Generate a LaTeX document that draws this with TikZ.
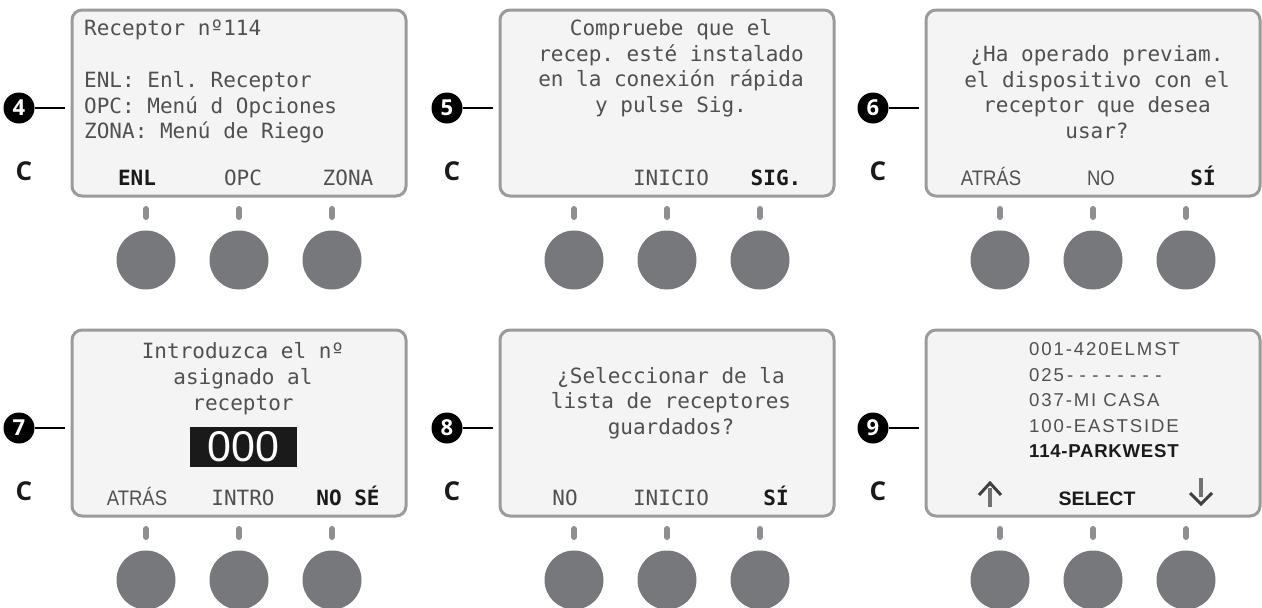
\documentclass[tikz,border=0pt]{standalone}
\usepackage{fontspec}
\setmonofont{DejaVu Sans Mono}
\setsansfont{Liberation Sans}
\newfontfamily\badgefont{Open Sans}
\newfontfamily\narrowfont[FakeStretch=0.88]{Liberation Sans}
\newfontfamily\listfont[LetterSpace=10]{Liberation Sans}
\usepackage{tikz}
\usetikzlibrary{calc}

\definecolor{scrfill}{HTML}{F4F4F4}
\definecolor{scredge}{HTML}{9B9B9B}
\definecolor{scrtext}{HTML}{505050}
\definecolor{knobgray}{HTML}{77787B}
\definecolor{stemgray}{HTML}{8E8F92}
\definecolor{ink}{HTML}{1A1A1A}
\newcommand{\dsh}{\makebox[12.6pt]{-}}

\begin{document}
\begin{tikzpicture}[x=1pt,y=-1pt,
  panel/.style={draw=scredge,fill=scrfill,line width=3pt,rounded corners=10pt,minimum width=334pt,minimum height=186pt,inner sep=0pt},
  badge/.style={circle,fill=black,text=white,inner sep=0pt,minimum size=31pt,font=\badgefont\bfseries\fontsize{22}{22}\selectfont},
  lead/.style={line width=2pt,shorten >=6pt},
  cbtn/.style={text=ink,inner sep=0pt,font=\badgefont\bfseries\fontsize{26}{26}\selectfont},
  stem/.style={stemgray,line width=6pt,line cap=round},
  knob/.style={circle,fill=knobgray,minimum size=59pt,inner sep=0pt},
  scr/.style={anchor=base,inner sep=0pt,text=scrtext,font=\ttfamily\fontsize{21}{21}\selectfont},
  soft/.style={anchor=base,inner sep=0pt,text=scrtext,font=\narrowfont\fontsize{21}{21}\selectfont},
  hard/.style={anchor=base,inner sep=0pt,text=ink,font=\ttfamily\bfseries\fontsize{21}{21}\selectfont},
  lst/.style={anchor=base west,inner sep=0pt,text=scrtext,font=\listfont\fontsize{18.6}{18.6}\selectfont}]

  \fill[white] (0,0) rectangle (1262,608);
  \useasboundingbox (0,0) rectangle (1262,608);

  \foreach \n/\cx/\cy in {4/239/103, 5/667/103, 6/1093/103, 7/239/423, 8/667/423, 9/1093/423} {
    \node[panel] (p\n) at (\cx,\cy) {};
    \node[badge] (b\n) at (\cx-220,\cy+5) {\n};
    \draw[lead] (b\n) -- (b\n -| p\n.west);
    \node[cbtn] (c\n) at (\cx-215,\cy+68) {C};
    \foreach \dx [count=\k] in {-93,0,93} {
      \draw[stem] (\cx+\dx,\cy+106) -- (\cx+\dx,\cy+114);
      \node[knob] (k\n\k) at (\cx+\dx,\cy+157) {};
    }
  }

  \node[scr,anchor=base west] (t4a) at (84,35) {Receptor nº114};
  \node[scr,anchor=base west] (t4b) at (84,87) {ENL: Enl. Receptor};
  \node[scr,anchor=base west] (t4c) at (84,113) {OPC: Menú d Opciones};
  \node[scr,anchor=base west] (t4d) at (84,138) {ZONA: Menú de Riego};
  \node[hard] (l4a) at (137,185) {ENL};
  \node[scr] (l4b) at (243,185) {OPC};
  \node[scr] (l4c) at (348,185) {ZONA};

  \node[scr] (t5a) at (671,35) {Compruebe que el};
  \node[scr] (t5b) at (671,61) {recep. esté instalado};
  \node[scr] (t5c) at (671,86.5) {en la conexión rápida};
  \node[scr] (t5d) at (671,112) {y pulse Sig.};
  \node[scr] (l5b) at (671,185) {INICIO};
  \node[hard] (l5c) at (776,185) {SIG.};

  \node[scr] (t6a) at (1097,61) {¿Ha operado previam.};
  \node[scr] (t6b) at (1097,87) {el dispositivo con el};
  \node[scr] (t6c) at (1097,112) {receptor que desea};
  \node[scr] (t6d) at (1097,138) {usar?};
  \node[soft] (l6a) at (991,185) {ATRÁS};
  \node[soft] (l6b) at (1101,185) {NO};
  \node[hard] (l6c) at (1203,185) {SÍ};

  \node[scr] (t7a) at (243,358) {Introduzca el nº};
  \node[scr] (t7b) at (243,384) {asignado al};
  \node[scr] (t7c) at (243,410) {receptor};
  \node[fill=ink,text=white,minimum width=107pt,minimum height=40pt,inner sep=0pt,font=\sffamily\fontsize{43}{43}\selectfont] (n7) at (243.5,447) {000};
  \node[soft] (l7a) at (137,505) {ATRÁS};
  \node[scr] (l7b) at (243,505) {INTRO};
  \node[hard] (l7c) at (348,505) {NO SÉ};

  \node[scr] (t8a) at (671,383) {¿Seleccionar de la};
  \node[scr] (t8b) at (671,408.5) {lista de receptores};
  \node[scr] (t8c) at (671,434) {guardados?};
  \node[scr] (l8a) at (565,505) {NO};
  \node[scr] (l8b) at (671,505) {INICIO};
  \node[hard] (l8c) at (776,505) {SÍ};

  \node[lst] (t9a) at (1029,355) {001-420ELMST};
  \node[lst] (t9b) at (1029,381) {025\dsh\dsh\dsh\dsh\dsh\dsh\dsh\dsh};
  \node[lst] (t9c) at (1029,406.5) {037-MI CASA};
  \node[lst] (t9d) at (1029,432) {100-EASTSIDE};
  \node[lst,text=ink,font=\listfont\bfseries\addfontfeature{LetterSpace=4}\fontsize{18.6}{18.6}\selectfont] (t9e) at (1029,457.5) {114-PARKWEST};
  \node[anchor=base,inner sep=0pt,text=ink,font=\sffamily\bfseries\fontsize{19.5}{19.5}\selectfont] (l9b) at (1097,505) {SELECT};
  \draw[stemgray!80!black,line width=3.5pt] (990,488) -- (990,507);
  \draw[scrtext!80!black,line width=3pt] (979,495) -- (990,483) -- (1001,495);
  \draw[stemgray!80!black,line width=3.5pt] (1201,478) -- (1201,497);
  \draw[scrtext!80!black,line width=3pt] (1190,493) -- (1201,504) -- (1212,493);

\end{tikzpicture}
\end{document}
